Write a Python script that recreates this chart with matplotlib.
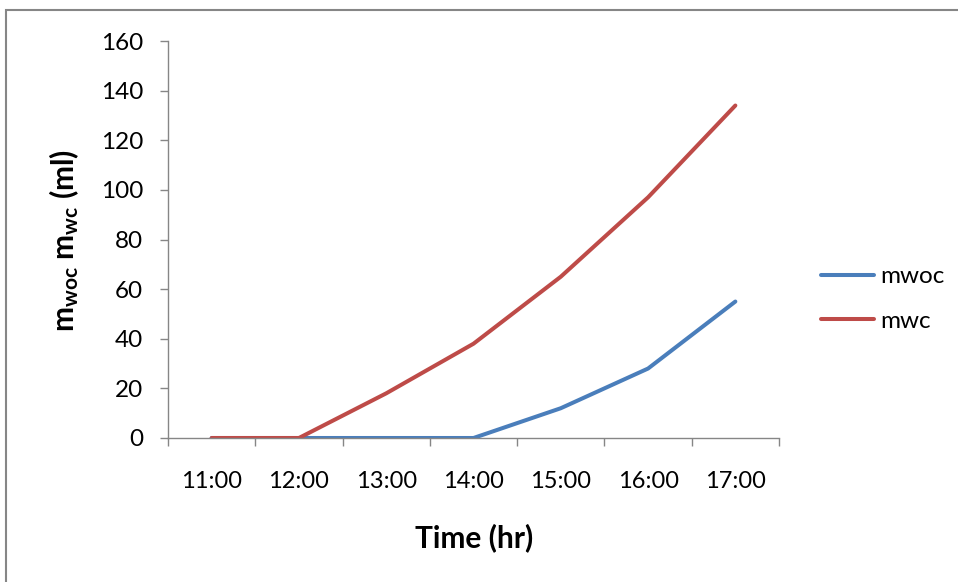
import matplotlib
matplotlib.use("Agg")
import matplotlib.pyplot as plt
from matplotlib.patches import Rectangle
import numpy as np

categories = ["11:00", "12:00", "13:00", "14:00", "15:00", "16:00", "17:00"]
mwoc = [0, 0, 0, 0, 12, 28, 55]
mwc = [0, 0, 18, 38, 65, 97, 134]
yticks = [0, 20, 40, 60, 80, 100, 120, 140, 160]

plt.rcParams['font.family'] = ['Lato', 'DejaVu Sans']
plt.rcParams['mathtext.fontset'] = 'custom'
plt.rcParams['mathtext.rm'] = 'Lato'
plt.rcParams['mathtext.bf'] = 'Lato:bold'
plt.rcParams['mathtext.it'] = 'Lato:italic'

fig = plt.figure(figsize=(9.58, 5.82), dpi=100)
W, H = 958, 582
ax = fig.add_axes([168 / W, 1 - 438 / H, (779 - 168) / W, (438 - 41) / H])

x = np.arange(len(categories))
ax.plot(x, mwoc, color='#4A7EBB', lw=2.9, label='mwoc', solid_capstyle='round')
ax.plot(x, mwc, color='#BE4B48', lw=2.9, label='mwc', solid_capstyle='round')

ax.set_xlim(-0.5, len(categories) - 0.5)
ax.set_ylim(0, 160)
ax.set_yticks(yticks)
ax.set_xticks(x)
ax.set_xticklabels(categories)
ax.set_xticks(np.arange(-0.5, len(categories)), minor=True)
ax.tick_params(axis='x', which='major', length=0, pad=24, labelsize=17)
ax.tick_params(axis='x', which='minor', length=6, color='#868686', width=1)
ax.tick_params(axis='y', length=6, color='#868686', width=1, pad=12, labelsize=17.5)

for s in ['top', 'right']:
    ax.spines[s].set_visible(False)
for s in ['left', 'bottom']:
    ax.spines[s].set_color('#868686')
    ax.spines[s].set_linewidth(1)

fig.text(474 / W, 1 - 538 / H, 'Time (hr)', ha='center', va='center',
         fontsize=21.5, fontweight='bold')
fig.text(64 / W, 1 - 240 / H, r'$\mathbf{m_{woc}}$ $\mathbf{m_{wc}}$ $\mathbf{(ml)}$',
         ha='center', va='center', rotation=90, fontsize=21.5)

leg = fig.legend(loc='center left', bbox_to_anchor=(821 / W, 1 - 299 / H),
                 frameon=False, handlelength=2.2, handletextpad=0.25,
                 labelspacing=0.95, fontsize=17.5, borderpad=0, borderaxespad=0)

fig.add_artist(Rectangle((6 / W, -0.1), 2, 1.1 - 10 / H, transform=fig.transFigure,
                         fill=False, edgecolor='#868686', lw=1.5))

fig.savefig('out.png', dpi=100)
